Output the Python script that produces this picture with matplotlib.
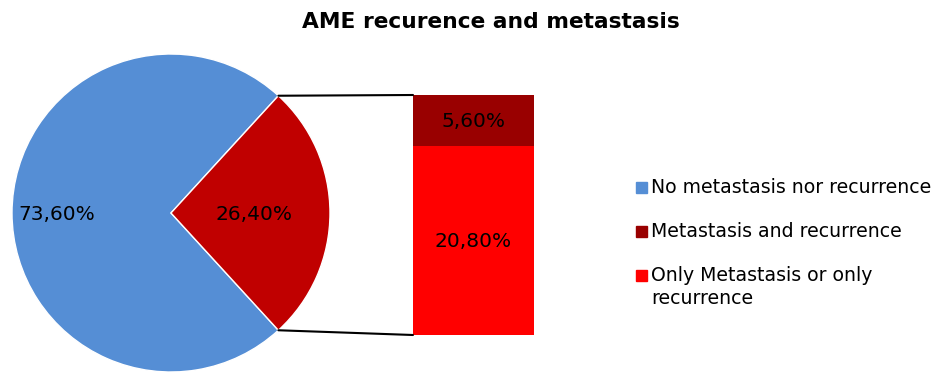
import matplotlib
matplotlib.use("Agg")
import matplotlib.pyplot as plt
from matplotlib.patches import ConnectionPatch, Rectangle
import numpy as np

# Data
pie_labels = ["No metastasis nor recurrence", "Metastasis and recurrence or only one"]
pie_values = [73.6, 26.4]
bar_labels = ["Only Metastasis or only\nrecurrence", "Metastasis and recurrence"]
bar_values = [20.8, 5.6]
legend_labels = ["No metastasis nor recurrence", "Metastasis and recurrence",
                 "Only Metastasis or only\nrecurrence"]

pie_colors = ["#558ED5", "#C00000"]
bar_colors = ["#FF0000", "#990000"]
legend_colors = ["#558ED5", "#990000", "#FF0000"]

W, H = 934, 372
fig = plt.figure(figsize=(W / 100, H / 100), dpi=100)
plt.rcParams["font.family"] = ["DejaVu Sans"]

def px_box(x0, y0, x1, y1):
    return [x0 / W, 1 - y1 / H, (x1 - x0) / W, (y1 - y0) / H]

# Pie
ax_pie = fig.add_axes(px_box(12, 54, 330, 372))
start = pie_values[1] / 100 * 360 / 2
wedges, _ = ax_pie.pie(pie_values, colors=pie_colors, startangle=start,
                       counterclock=True, radius=1,
                       wedgeprops=dict(edgecolor="white", linewidth=1))
ax_pie.set_xlim(-1, 1)
ax_pie.set_ylim(-1, 1)
ax_pie.set_aspect("equal")
ax_pie.axis("off")

label_dist = [0.72, 0.52]
for w, v, d in zip(wedges, pie_values, label_dist):
    ang = np.deg2rad((w.theta1 + w.theta2) / 2)
    ax_pie.text(d * np.cos(ang), d * np.sin(ang) - 0.01, f"{v:.2f}%".replace(".", ","),
                ha="center", va="center", fontsize=14.5, color="black")

# Stacked bar
ax_bar = fig.add_axes(px_box(413, 95, 534, 335))
bottom = 0
for v, c in zip(bar_values, bar_colors):
    ax_bar.bar(0, v, bottom=bottom, width=1, color=c, edgecolor="none")
    ax_bar.text(0, bottom + v / 2 - 0.1, f"{v:.2f}%".replace(".", ","),
                ha="center", va="center", fontsize=14.5, color="black")
    bottom += v
ax_bar.set_xlim(-0.5, 0.5)
ax_bar.set_ylim(0, sum(bar_values))
ax_bar.axis("off")

# Connector lines between the red wedge and the bar
red = wedges[1]
for theta, ybar in [(red.theta2, sum(bar_values)), (red.theta1, 0)]:
    t = np.deg2rad(theta)
    con = ConnectionPatch(xyA=(np.cos(t), np.sin(t)), coordsA=ax_pie.transData,
                          xyB=(-0.5, ybar), coordsB=ax_bar.transData,
                          color="black", linewidth=1.5)
    fig.add_artist(con)

# Legend
leg_y = [187, 231, 275]
for lab, c, y in zip(legend_labels, legend_colors, leg_y):
    fig.add_artist(Rectangle(((636) / W, 1 - (y + 6) / H), 11 / W, 11 / H,
                             transform=fig.transFigure, color=c))
    fig.text(651 / W, 1 - (y - 9) / H, lab, ha="left", va="top",
             fontsize=13.6, linespacing=1.25)

# Title
fig.text(491 / W, 1 - 22 / H, "AME recurence and metastasis", ha="center",
         va="center", fontsize=15.7, fontweight="bold")

fig.savefig("out.png", dpi=100)
